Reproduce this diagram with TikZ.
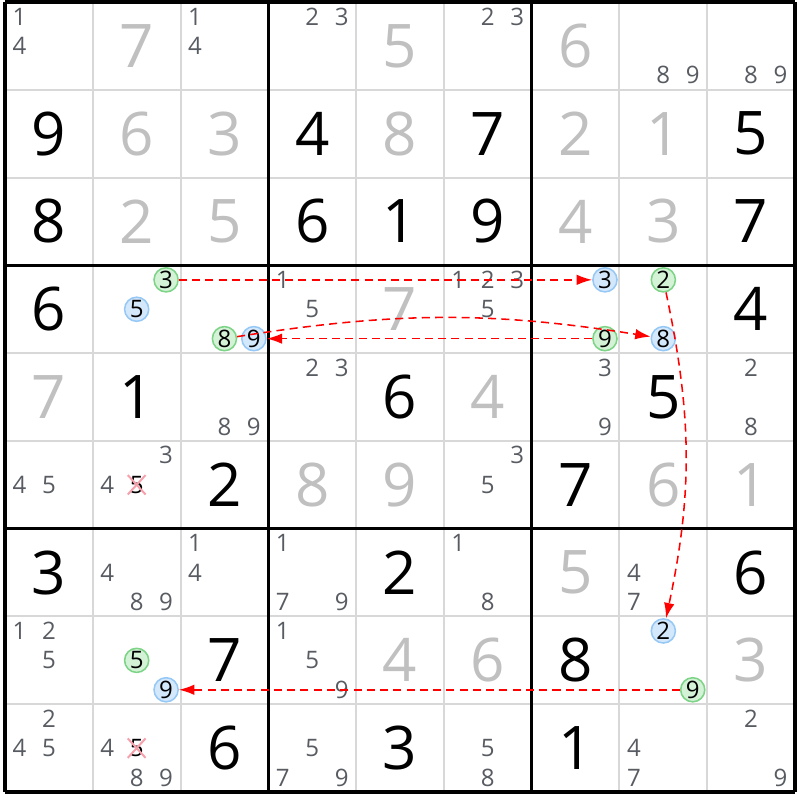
\documentclass[tikz,border=0pt]{standalone}
\usepackage{fontspec}
\setmainfont{Open Sans}
\usepackage{xcolor}
\usepackage{tikz}
\usetikzlibrary{arrows.meta,shapes.misc}

\definecolor{givengray}{RGB}{192,192,192}
\definecolor{candgray}{RGB}{88,92,98}
\definecolor{gridgray}{RGB}{216,216,216}
\definecolor{onfill}{RGB}{212,242,214}
\definecolor{online}{RGB}{125,212,135}
\definecolor{offfill}{RGB}{212,232,252}
\definecolor{offline}{RGB}{150,200,245}
\definecolor{xpink}{RGB}{246,160,172}

\begin{document}
\begin{tikzpicture}[
    thinline/.style={gridgray,line width=0.65pt},
    boxline/.style={black,line width=1.1pt},
    given/.style={givengray,font=\fontsize{19.5}{20}\selectfont},
    placed/.style={black,font=\fontsize{19.5}{20}\selectfont},
    cand/.style={candgray,inner sep=0pt,font=\fontsize{7.8}{8}\selectfont},
    ondigit/.style={circle,draw=online,fill=onfill,line width=0.5pt,minimum size=0.275cm,inner sep=0pt,font=\fontsize{7.8}{8}\selectfont},
    offdigit/.style={circle,draw=offline,fill=offfill,line width=0.5pt,minimum size=0.275cm,inner sep=0pt,font=\fontsize{7.8}{8}\selectfont},
    struck/.style={cross out,draw=xpink,line width=0.65pt,minimum size=0.18cm,inner sep=0pt,font=\fontsize{7.8}{8}\selectfont},
    link/.style={red,dash pattern=on 2.6pt off 1.7pt,line width=0.5pt,-{Latex[length=5pt,width=3.4pt]}}
  ]
  \useasboundingbox (-0.057,0.023) rectangle (9.057,-9.091);
  % Draw grid lines
  \foreach \i in {1,...,8} {
    \draw[thinline] (\i,0) -- (\i,-9);
    \draw[thinline] (0,-\i) -- (9,-\i);
  }
  \foreach \i in {0,3,6,9} {
    \draw[boxline] (\i,0) -- (\i,-9);
    \draw[boxline] (0,-\i) -- (9,-\i);
  }
  % Givens
  \foreach \r/\c/\d in {1/2/7,1/5/5,1/7/6,2/2/6,2/3/3,2/5/8,2/7/2,2/8/1,3/2/2,3/3/5,3/7/4,3/8/3,
      4/5/7,5/1/7,5/6/4,6/4/8,6/5/9,6/8/6,6/9/1,7/7/5,8/5/4,8/6/6,8/9/3}
    \node[given] at (\c-0.5,-\r+0.5) {\d};
  % Solved cells
  \foreach \r/\c/\d in {2/1/9,2/4/4,2/6/7,2/9/5,3/1/8,3/4/6,3/5/1,3/6/9,3/9/7,4/1/6,4/9/4,
      5/2/1,5/5/6,5/8/5,6/3/2,6/7/7,7/1/3,7/5/2,7/9/6,8/3/7,8/7/8,9/3/6,9/5/3,9/7/1}
    \node[placed] at (\c-0.5,-\r+0.5) {\d};
  % Candidates
  \foreach \r/\c/\d in {1/1/1,1/1/4,1/3/1,1/3/4,1/4/2,1/4/3,1/6/2,1/6/3,1/8/8,1/8/9,1/9/8,1/9/9,
      4/4/1,4/4/5,4/6/1,4/6/2,4/6/3,4/6/5,
      5/3/8,5/3/9,5/4/2,5/4/3,5/7/3,5/7/9,5/9/2,5/9/8,
      6/1/4,6/1/5,6/2/3,6/2/4,6/6/3,6/6/5,
      7/2/4,7/2/8,7/2/9,7/3/1,7/3/4,7/4/1,7/4/7,7/4/9,7/6/1,7/6/8,7/8/4,7/8/7,
      8/1/1,8/1/2,8/1/5,8/4/1,8/4/5,8/4/9,
      9/1/2,9/1/4,9/1/5,9/2/4,9/2/8,9/2/9,9/4/5,9/4/7,9/4/9,9/6/5,9/6/8,9/8/4,9/8/7,9/9/2,9/9/9} {
    \pgfmathsetmacro\px{\c-0.5+(mod(\d-1,3)-1)*0.335}
    \pgfmathsetmacro\py{-\r+0.5-(int((\d-1)/3)-1)*0.335}
    \node[cand] at (\px,\py) {\d};
  }
  % Eliminated candidates
  \node[struck] (x6) at (1.5,-5.5) {5};
  \node[struck] (x9) at (1.5,-8.5) {5};
  % Chain candidates
  \node[ondigit] (on3) at (1.835,-3.165) {3};
  \node[offdigit] (off5) at (1.5,-3.5) {5};
  \node[ondigit] (on8) at (2.5,-3.835) {8};
  \node[offdigit] (off9) at (2.835,-3.835) {9};
  \node[offdigit] (off3) at (6.835,-3.165) {3};
  \node[ondigit] (on9) at (6.835,-3.835) {9};
  \node[ondigit] (on2) at (7.5,-3.165) {2};
  \node[offdigit] (off8) at (7.5,-3.835) {8};
  \node[ondigit] (on5b) at (1.5,-7.5) {5};
  \node[offdigit] (off9b) at (1.835,-7.835) {9};
  \node[offdigit] (off2b) at (7.5,-7.165) {2};
  \node[ondigit] (on9b) at (7.835,-7.835) {9};
  % Draw links
  \draw[link] (on3) -- (off3);
  \draw[link] (on9) -- (off9);
  \draw[link] (on8) to[bend left=9] (off8);
  \draw[link] (on2) to[bend left=12] (off2b);
  \draw[link] (on9b) -- (off9b);
\end{tikzpicture}
\end{document}
